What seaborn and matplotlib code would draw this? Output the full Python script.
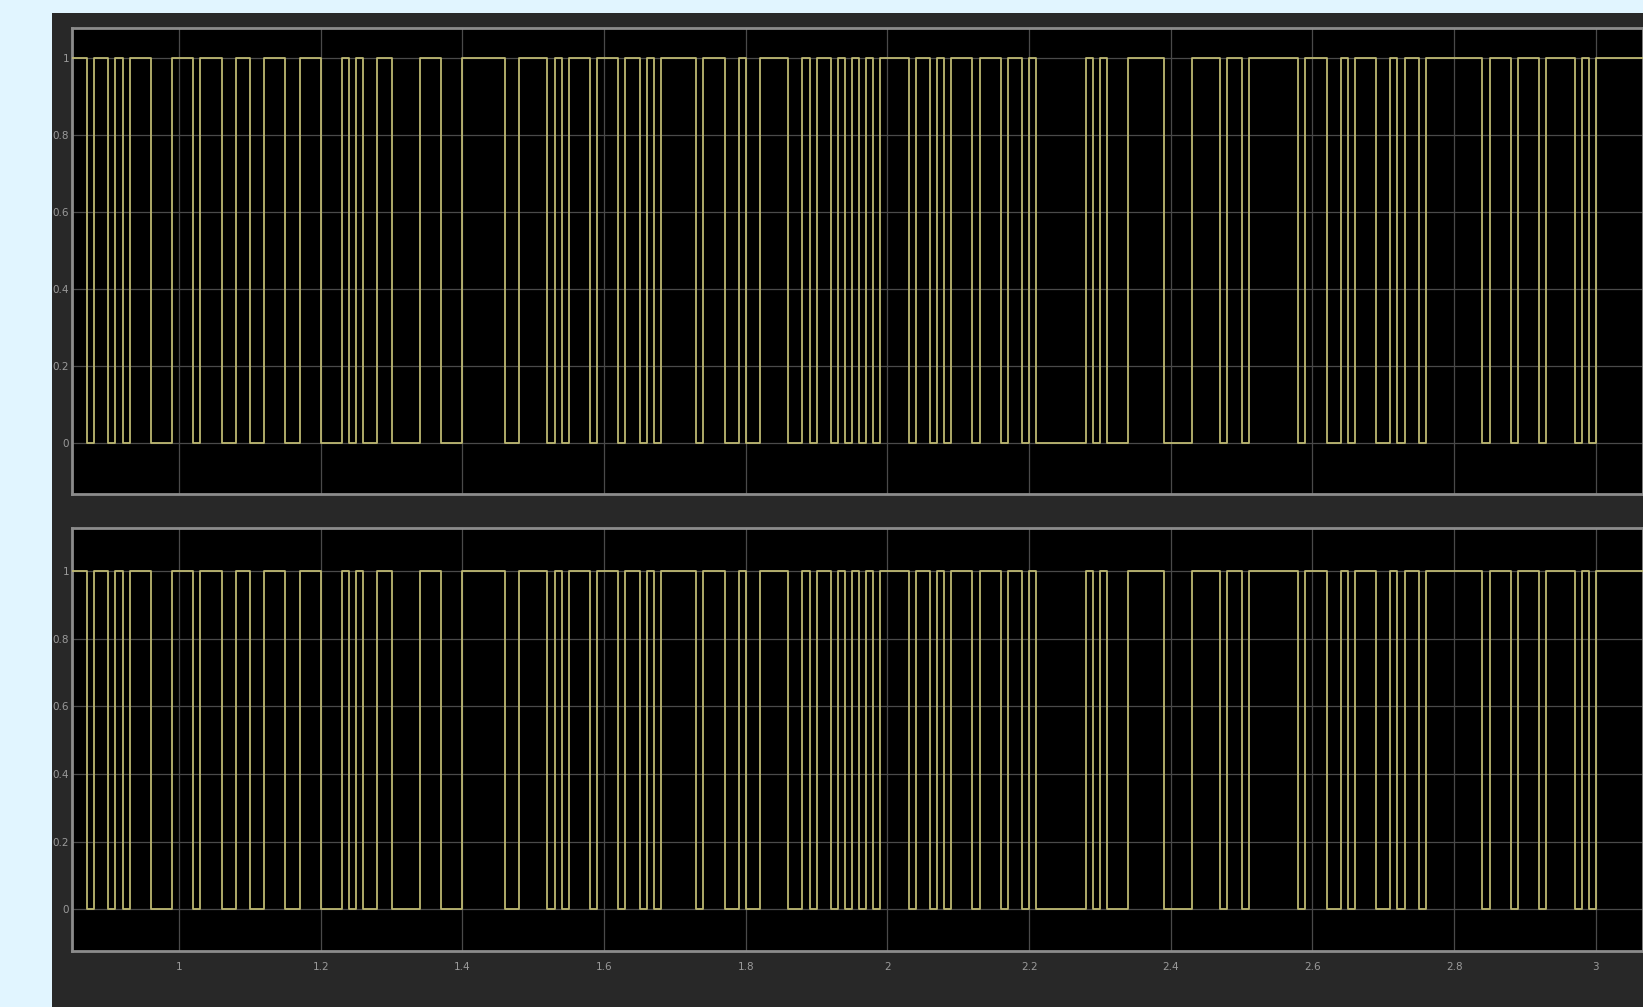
import numpy as np
import pandas as pd
import matplotlib
matplotlib.use("Agg")
import matplotlib.pyplot as plt
import seaborn as sns
from matplotlib.patches import Rectangle

# Pulse train: level toggles at each of these instants (s), sample time 0.01 s
start_level = 1
t_first = 0.84
t_last = 3.08
toggle_times = [
    0.87, 0.88, 0.90, 0.91, 0.92, 0.93, 0.96, 0.99, 1.02, 1.03,
    1.06, 1.08, 1.10, 1.12, 1.15, 1.17, 1.20, 1.23, 1.24, 1.25,
    1.26, 1.28, 1.30, 1.34, 1.37, 1.40, 1.46, 1.48, 1.52, 1.53,
    1.54, 1.55, 1.58, 1.59, 1.62, 1.63, 1.65, 1.66, 1.67, 1.68,
    1.73, 1.74, 1.77, 1.79, 1.80, 1.82, 1.86, 1.88, 1.89, 1.90,
    1.92, 1.93, 1.94, 1.95, 1.96, 1.97, 1.98, 1.99, 2.03, 2.04,
    2.06, 2.07, 2.08, 2.09, 2.12, 2.13, 2.16, 2.17, 2.19, 2.20,
    2.21, 2.28, 2.29, 2.30, 2.31, 2.34, 2.39, 2.43, 2.47, 2.48,
    2.50, 2.51, 2.58, 2.59, 2.62, 2.64, 2.65, 2.66, 2.69, 2.71,
    2.72, 2.73, 2.75, 2.76, 2.84, 2.85, 2.88, 2.89, 2.92, 2.93,
    2.97, 2.98, 2.99, 3.00,
]

x_ticks = [1.0, 1.2, 1.4, 1.6, 1.8, 2.0, 2.2, 2.4, 2.6, 2.8, 3.0]
x_tick_labels = ["1", "1.2", "1.4", "1.6", "1.8", "2", "2.2", "2.4", "2.6", "2.8", "3"]
y_ticks = [0.0, 0.2, 0.4, 0.6, 0.8, 1.0]
y_tick_labels = ["0", "0.2", "0.4", "0.6", "0.8", "1"]


def step_frame(toggles, level0):
    times = [t_first] + list(toggles) + [t_last]
    levels = [level0]
    for _ in toggles:
        levels.append(1 - levels[-1])
    levels.append(levels[-1])
    return pd.DataFrame({"t": times, "level": levels})


signal = step_frame(toggle_times, start_level)

W, H = 1643, 1007
fig = plt.figure(figsize=(W / 100, H / 100), dpi=100, facecolor="#e1f5ff")
fig.add_artist(Rectangle((52 / W, 0), 1, 1 - 13 / H, transform=fig.transFigure,
                         facecolor="#282828", edgecolor="none", zorder=0))

label_font = dict(family=["Liberation Sans Narrow", "DejaVu Sans"], size=7.5, color="#9a9a9a")

panels = [
    # (top px, bottom px, ylim, show x labels)
    (28, 494, (-0.132, 1.078), False),
    (528, 951, (-0.123, 1.127), True),
]

xlim = (0.8487, 3.0667)
for top_px, bot_px, ylim, show_x in panels:
    ax = fig.add_axes([72 / W, 1 - bot_px / H, 1 - 72 / W, (bot_px - top_px) / H])
    ax.set_facecolor("black")
    ax.set_axisbelow(True)
    sns.lineplot(data=signal, x="t", y="level", ax=ax, estimator=None,
                 drawstyle="steps-post", color="#bdb872", linewidth=1.3, zorder=3)
    ax.set_xlim(*xlim)
    ax.set_ylim(*ylim)
    ax.set_xticks(x_ticks)
    ax.set_yticks(y_ticks)
    ax.set_yticklabels(y_tick_labels, **label_font)
    if show_x:
        ax.set_xticklabels(x_tick_labels, **label_font)
    else:
        ax.set_xticklabels([])
    ax.tick_params(axis="y", length=0, pad=2)
    ax.tick_params(axis="x", length=0, pad=8)
    ax.grid(True, color="#4a4a4a", linewidth=0.9)
    ax.set_xlabel("")
    ax.set_ylabel("")
    for s in ax.spines.values():
        s.set_color("#8c8c8c")
        s.set_linewidth(2)

fig.savefig("out.png", dpi=100, facecolor=fig.get_facecolor())
